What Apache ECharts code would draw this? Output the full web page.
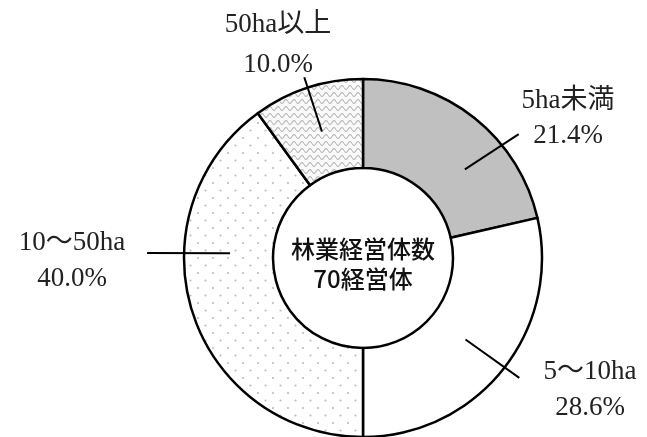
<!DOCTYPE html>
<html>
<head>
<meta charset="utf-8">
<script src="https://cdn.jsdelivr.net/npm/echarts@6/dist/echarts.min.js"></script>
<style>
html,body{margin:0;padding:0;background:#fff;}
#chart{width:647px;height:437px;}
</style>
</head>
<body>
<div id="chart"></div>
<script>
// ---- data ----
const categories = ['5ha未満', '5～10ha', '10～50ha', '50ha以上'];
const values = [21.4, 28.6, 40.0, 10.0];
const centerLines = ['林業経営体数', '70経営体'];

// ---- style / layout config ----
const CX = 363, CY = 258, R_IN = 90, R_OUT = 179;
const LABEL_FONT = '"Liberation Serif", "Noto Sans CJK JP", serif';
const labelPos = [ [568, 118], [590, 390], [72, 261], [278, 45] ];
const labelLH = [35, 36, 36, 40];
// leader: [startAngle, startR, endAngle, endR] (deg clockwise from top)
const leaders = [ [49, 135, 51.5, 199], [128.5, 131, 127.5, 197], [272, 133, 271.3, 216], [342, 133, 342, 190] ];

function polar(a, r) {
  const t = a * Math.PI / 180;
  return [CX + r * Math.sin(t), CY - r * Math.cos(t)];
}

function dotPattern() {
  const c = document.createElement('canvas');
  const s = 15;
  c.width = s; c.height = s;
  const g = c.getContext('2d');
  g.fillStyle = '#ffffff'; g.fillRect(0, 0, s, s);
  g.fillStyle = '#bdbdbd';
  [[3, 3], [10.5, 10.5]].forEach(p => { g.beginPath(); g.arc(p[0], p[1], 1.1, 0, Math.PI * 2); g.fill(); });
  return c;
}
function wavePattern() {
  const c = document.createElement('canvas');
  const w = 8, h = 7;
  c.width = w; c.height = h;
  const g = c.getContext('2d');
  g.fillStyle = '#fafafa'; g.fillRect(0, 0, w, h);
  g.strokeStyle = '#b4b4b4'; g.lineWidth = 1.1;
  g.beginPath();
  for (let x = 0; x <= w; x += 0.5) {
    const y = 3.5 + 2 * Math.sin(x / w * Math.PI * 2);
    if (x === 0) g.moveTo(x, y); else g.lineTo(x, y);
  }
  g.stroke();
  return c;
}

const fills = [
  '#c0c0c0',
  '#ffffff',
  { image: dotPattern(), repeat: 'repeat' },
  { image: wavePattern(), repeat: 'repeat' }
];

const data = categories.map((n, i) => ({
  name: n,
  value: values[i],
  itemStyle: { color: fills[i] }
}));

const graphics = [];
categories.forEach((n, i) => {
  const L = leaders[i];
  graphics.push({
    type: 'polyline', z: 100,
    shape: { points: [polar(L[0], L[1]), polar(L[2], L[3])] },
    style: { stroke: '#000', lineWidth: 2, fill: null }
  });
  graphics.push({
    type: 'text', z: 100,
    x: labelPos[i][0], y: labelPos[i][1],
    style: {
      text: n + '\n' + values[i].toFixed(1) + '%',
      textAlign: 'center', textVerticalAlign: 'middle',
      fontFamily: LABEL_FONT, fontSize: 27, lineHeight: labelLH[i],
      fill: '#222'
    }
  });
});
graphics.push({
  type: 'text', z: 100,
  x: CX, y: 264,
  style: {
    text: centerLines.join('\n'),
    textAlign: 'center', textVerticalAlign: 'middle',
    fontFamily: '"Noto Sans CJK JP", sans-serif',
    fontSize: 24, fontWeight: 500, lineHeight: 30, fill: '#111'
  }
});

const chart = echarts.init(document.getElementById('chart'), null, { renderer: 'canvas' });
chart.setOption({
  animation: false,
  backgroundColor: '#ffffff',
  series: [{
    type: 'pie',
    center: [CX, CY],
    radius: [R_IN, R_OUT],
    startAngle: 90,
    clockwise: true,
    silent: true,
    data: data,
    itemStyle: { borderColor: '#000', borderWidth: 2.5 },
    label: { show: false },
    labelLine: { show: false },
    emphasis: { disabled: true }
  }],
  graphic: graphics
});
</script>
</body>
</html>
